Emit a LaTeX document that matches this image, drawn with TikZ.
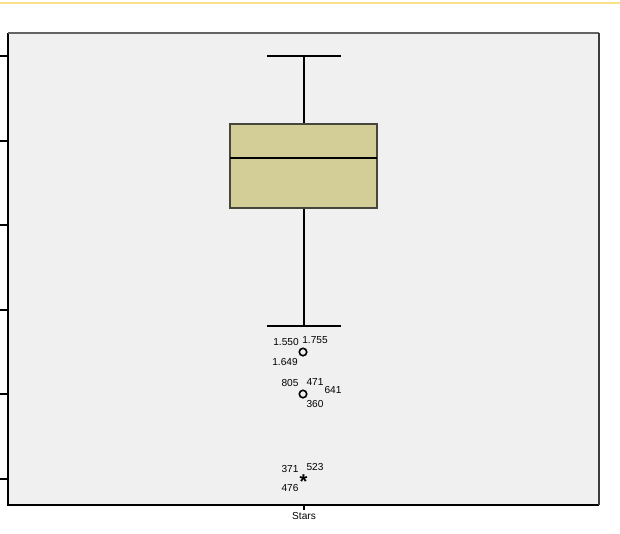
\documentclass[tikz,border=0pt]{standalone}
\usepackage{fontspec}
\setmainfont{Liberation Sans}
\begin{document}
\begin{tikzpicture}[x=0.75pt,y=-0.75pt,
  lbl/.style={font=\fontsize{7.6}{9}\selectfont, inner sep=0pt, text=black},
  whisk/.style={draw=black, line width=0.8pt},
  outl/.style={circle, draw=black, line width=1.2pt, minimum size=5.6pt, inner sep=0pt}]
\useasboundingbox (0,0) rectangle (620,533);
\fill[white] (0,0) rectangle (620,533);
\draw[color={rgb,255:red,250;green,226;blue,140}, line width=1.8pt] (0,3) -- (620,3);
% frame
\fill[color={rgb,255:red,240;green,240;blue,240}] (8,33) rectangle (599,505);
\draw[black, line width=0.8pt] (599,505) -- (8,505) -- (8,33);
\draw[color={rgb,255:red,100;green,100;blue,100}, line width=1.2pt] (8,33) -- (599,33);
\draw[color={rgb,255:red,60;green,60;blue,60}, line width=0.9pt] (599,33) -- (599,505);
% y ticks
\foreach \yy in {56,141,225,310,394,479} \draw[black, line width=0.8pt] (0,\yy) -- (8,\yy);
% x tick
\draw[black, line width=0.8pt] (304,505) -- (304,510);
\node[lbl] (xl) at (304,516) {Stars};
% box
\coordinate (wt) at (304,56);
\coordinate (wb) at (304,326);
\draw[whisk] (267,56) -- (341,56);
\draw[whisk] (267,326) -- (341,326);
\draw[whisk] (wt) -- (304,124);
\draw[whisk] (304,208) -- (wb);
\filldraw[fill={rgb,255:red,211;green,206;blue,151}, draw={rgb,255:red,70;green,70;blue,60}, line width=0.8pt] (230,124) rectangle (377,208);
\draw[black, line width=1.9pt] (230,158) -- (377,158);
% outliers
\node[outl] (o1) at (303,352) {};
\node[outl] (o2) at (303,394) {};
\node[lbl, font=\fontsize{15}{15}\selectfont\bfseries] (o3) at (303.5,482) {*};
\node[lbl] at (286,342) {1.550};
\node[lbl] at (315,340) {1.755};
\node[lbl] at (285,362) {1.649};
\node[lbl] at (290,383) {805};
\node[lbl] at (315,382) {471};
\node[lbl] at (333,390) {641};
\node[lbl] at (315,404) {360};
\node[lbl] at (290,469) {371};
\node[lbl] at (315,467) {523};
\node[lbl] at (290,488) {476};
\end{tikzpicture}
\end{document}
